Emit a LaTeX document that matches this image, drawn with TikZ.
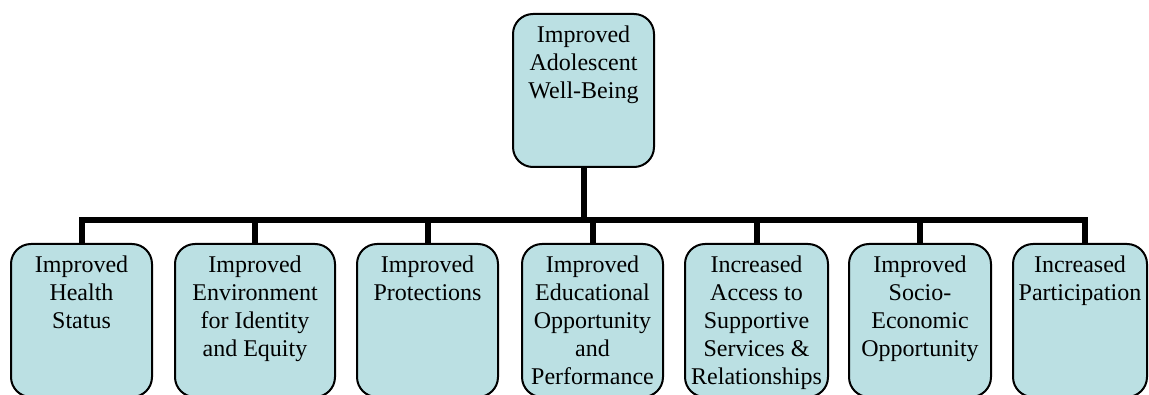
\documentclass[tikz,border=0pt]{standalone}
\usepackage{fontspec}
\setmainfont{Liberation Serif}
\definecolor{boxfill}{HTML}{BBE0E3}
\newcommand{\bxt}[2]{\parbox[c][153pt][t]{#1}{\vspace*{9pt}\centering\fontsize{24}{28}\selectfont\strut #2\par}}
\tikzset{
  goalbox/.style={draw=black, line width=2pt, fill=boxfill, rounded corners=20pt,
    inner sep=0pt, anchor=north, minimum height=153pt},
  conn/.style={draw=black, line width=6pt}
}
\begin{document}
\begin{tikzpicture}[x=1pt,y=-1pt]
\useasboundingbox (0,0) rectangle (1149,395);
\node[goalbox, minimum width=141pt] (top) at (583.5,13) {\bxt{139pt}{Improved\\Adolescent\\Well-Being}};
\node[goalbox, minimum width=141pt] (b1) at (81.5,243) {\bxt{139pt}{Improved\\Health\\Status}};
\node[goalbox, minimum width=160pt] (b2) at (255,243) {\bxt{158pt}{Improved\\Environment\\for Identity\\and Equity}};
\node[goalbox, minimum width=141pt] (b3) at (427.5,243) {\bxt{139pt}{Improved\\Protections}};
\node[goalbox, minimum width=141pt] (b4) at (592.5,243) {\bxt{139pt}{Improved\\Educational\\Opportunity\\and\\Performance}};
\node[goalbox, minimum width=143pt] (b5) at (756.5,243) {\bxt{141pt}{Increased\\Access to\\Supportive\\Services \&\\Relationships}};
\node[goalbox, minimum width=142pt] (b6) at (920,243) {\bxt{140pt}{Improved\\Socio-\\Economic\\Opportunity}};
\node[goalbox, minimum width=134pt] (b7) at (1080,243) {\bxt{132pt}{Increased\\Participation}};
\coordinate (j) at (583.5,220);
\coordinate (c7) at ([xshift=5pt]b7.north);
\draw[conn] (top.south) -- (j);
\draw[conn] (b1.north) |- (j) -| (c7);
\draw[conn] (j -| b2.north) -- (b2.north);
\draw[conn] (j -| b3.north) -- (b3.north);
\draw[conn] (j -| b4.north) -- (b4.north);
\draw[conn] (j -| b5.north) -- (b5.north);
\draw[conn] (j -| b6.north) -- (b6.north);
\end{tikzpicture}
\end{document}
